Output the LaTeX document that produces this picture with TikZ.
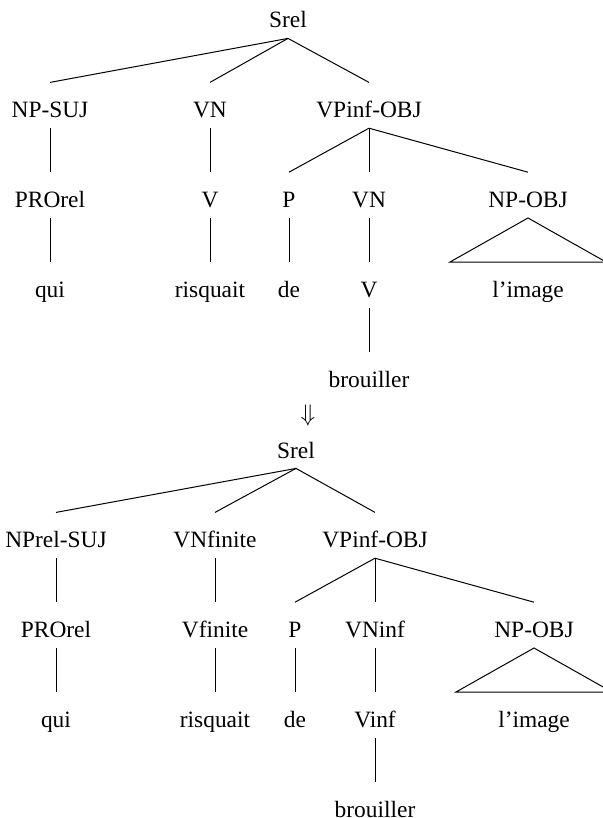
\documentclass[tikz,border=0pt]{standalone}
\usepackage{fontspec}
\setmainfont{Liberation Serif}
\usepackage{tikz}
\usetikzlibrary{positioning}

\tikzset{
  cat/.style={inner sep=0pt, text height=17.5pt, text depth=5pt, font=\fontsize{11.7}{14}\selectfont},
  branch/.style={line width=0.5pt}
}

\begin{document}
\begin{tikzpicture}[x=0.5pt, y=-0.5pt, node distance=22pt]
  \useasboundingbox (0,0) rectangle (603,818);
  % Define nodes (first tree)
  \node[cat, anchor=base] (srelA) at (288,28) {Srel}; %
  \node[cat, below=of srelA, xshift=-119pt] (npsuj) {NP-SUJ}; %
  \node[cat, below=of srelA, xshift=-39pt] (vnA) {VN}; %
  \node[cat, below=of srelA, xshift=40.5pt] (vpinfA) {VPinf-OBJ}; %
  \node[cat, below=of npsuj] (prorelA) {PROrel};
  \node[cat, below=of vnA] (vA) {V};
  \node[cat, below=of vpinfA, xshift=-40pt] (pA) {P};
  \node[cat, below=of vpinfA] (vnB) {VN};
  \node[cat, below=of vpinfA, xshift=79.5pt] (npobjA) {NP-OBJ};
  \node[cat, below=of prorelA] (quiA) {qui};
  \node[cat, below=of vA] (risquaitA) {risquait};
  \node[cat, below=of pA] (deA) {de};
  \node[cat, below=of vnB] (vB) {V};
  \node[cat, below=of npobjA] (imageA) {l'image};
  \node[cat, below=of vB, text depth=0pt] (brouillerA) {brouiller};
  \draw[branch] (srelA.south) -- (npsuj.north);
  \draw[branch] (srelA.south) -- (vnA.north);
  \draw[branch] (srelA.south) -- (vpinfA.north);
  \draw[branch] (npsuj.south) -- (prorelA.north);
  \draw[branch] (vnA.south) -- (vA.north);
  \draw[branch] (vpinfA.south) -- (pA.north);
  \draw[branch] (vpinfA.south) -- (vnB.north);
  \draw[branch] (vpinfA.south) -- (npobjA.north);
  \draw[branch] (prorelA.south) -- (quiA.north);
  \draw[branch] (vA.south) -- (risquaitA.north);
  \draw[branch] (pA.south) -- (deA.north);
  \draw[branch] (vnB.south) -- (vB.north);
  \draw[branch] (vB.south) -- (brouillerA.north);
  \draw[branch] (npobjA.south) -- ([xshift=-39pt]imageA.north) -- ([xshift=39pt]imageA.north) -- cycle;

  \node[font=\fontsize{11.7}{14}\selectfont] (arrow) at (308,415) {$\Downarrow$};

  % Define nodes (second tree)
  \node[cat, anchor=base] (srelB) at (296,458) {Srel}; %
  \node[cat, below=of srelB, xshift=-120pt] (nprelsuj) {NPrel-SUJ}; %
  \node[cat, below=of srelB, xshift=-40.5pt] (vnfinite) {VNfinite}; %
  \node[cat, below=of srelB, xshift=39.5pt] (vpinfB) {VPinf-OBJ}; %
  \node[cat, below=of nprelsuj] (prorelB) {PROrel};
  \node[cat, below=of vnfinite] (vfinite) {Vfinite};
  \node[cat, below=of vpinfB, xshift=-40pt] (pB) {P};
  \node[cat, below=of vpinfB] (vninf) {VNinf};
  \node[cat, below=of vpinfB, xshift=79.5pt] (npobjB) {NP-OBJ};
  \node[cat, below=of prorelB] (quiB) {qui};
  \node[cat, below=of vfinite] (risquaitB) {risquait};
  \node[cat, below=of pB] (deB) {de};
  \node[cat, below=of vninf] (vinf) {Vinf};
  \node[cat, below=of npobjB] (imageB) {l'image};
  \node[cat, below=of vinf, text depth=0pt] (brouillerB) {brouiller};
  \draw[branch] (srelB.south) -- (nprelsuj.north);
  \draw[branch] (srelB.south) -- (vnfinite.north);
  \draw[branch] (srelB.south) -- (vpinfB.north);
  \draw[branch] (nprelsuj.south) -- (prorelB.north);
  \draw[branch] (vnfinite.south) -- (vfinite.north);
  \draw[branch] (vpinfB.south) -- (pB.north);
  \draw[branch] (vpinfB.south) -- (vninf.north);
  \draw[branch] (vpinfB.south) -- (npobjB.north);
  \draw[branch] (prorelB.south) -- (quiB.north);
  \draw[branch] (vfinite.south) -- (risquaitB.north);
  \draw[branch] (pB.south) -- (deB.north);
  \draw[branch] (vninf.south) -- (vinf.north);
  \draw[branch] (vinf.south) -- (brouillerB.north);
  \draw[branch] (npobjB.south) -- ([xshift=-39pt]imageB.north) -- ([xshift=39pt]imageB.north) -- cycle;
\end{tikzpicture}
\end{document}
